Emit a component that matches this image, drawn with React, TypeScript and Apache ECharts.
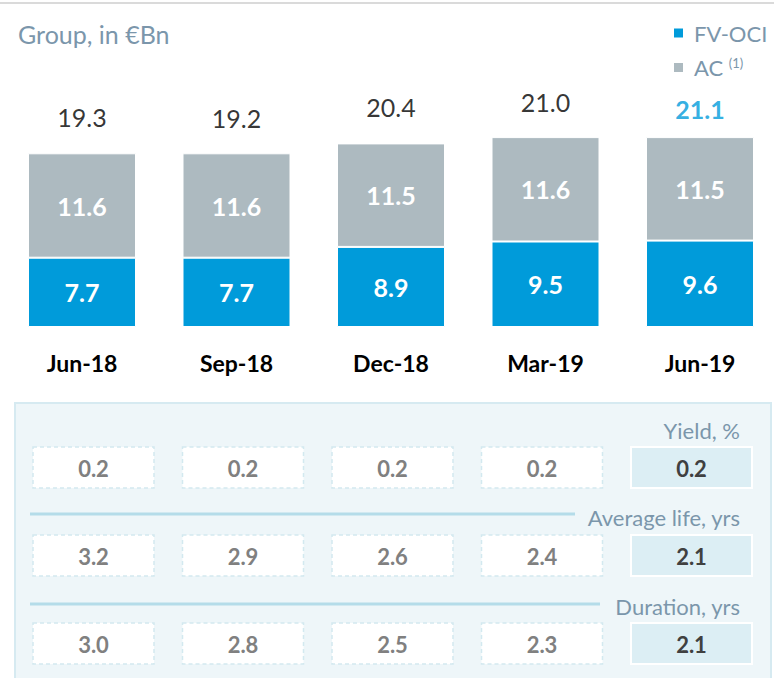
import React, { useEffect, useRef } from "react";
import * as echarts from "echarts";

const categories = ["Jun-18", "Sep-18", "Dec-18", "Mar-19", "Jun-19"];
const fvoci = [7.7, 7.7, 8.9, 9.5, 9.6];
const ac = [11.6, 11.6, 11.5, 11.6, 11.5];
const totals = [19.3, 19.2, 20.4, 21.0, 21.1];

const rowTitles = ["Yield, %", "Average life, yrs", "Duration, yrs"];
const yieldPct = [0.2, 0.2, 0.2, 0.2, 0.2];
const avgLife = [3.2, 2.9, 2.6, 2.4, 2.1];
const duration = [3.0, 2.8, 2.5, 2.3, 2.1];

const BLUE = "#009BDA";
const GREY = "#ADBAC0";
const TITLE = "#7B96AB";
const FONT = "Lato, 'Open Sans', sans-serif";

export default function App() {
  const ref = useRef<HTMLDivElement>(null);
  useEffect(() => {
    if (!ref.current) return;
    const chart = echarts.init(ref.current, undefined, { renderer: "svg" });
    const tableRows = [yieldPct, avgLife, duration];
    const tableData: number[][] = [];
    tableRows.forEach((row, r) => row.forEach((v, c) => tableData.push([c, r, v])));
    const last = categories.length - 1;

    chart.setOption({
      animation: false,
      textStyle: { fontFamily: FONT },
      title: {
        text: "Group, in €Bn",
        left: 13,
        top: 16,
        textStyle: { color: TITLE, fontSize: 25, fontWeight: "normal", fontFamily: FONT },
      },
      legend: {
        orient: "vertical",
        left: 672,
        top: 22,
        padding: 0,
        itemWidth: 11,
        itemHeight: 11,
        itemGap: 12,
        icon: "rect",
        data: ["FV-OCI", "AC"],
        formatter: (n: string) => (n === "AC" ? "AC {sup|(1)}" : n),
        textStyle: {
          color: TITLE,
          fontSize: 22,
          fontFamily: FONT,
          padding: [0, 0, 0, 5],
          rich: { sup: { fontSize: 13, color: TITLE, verticalAlign: "top", padding: [0, 0, 10, 0], fontFamily: FONT } },
        },
      },
      grid: [
        { left: 82, width: 618, top: 102, height: 225 },
        { left: 93.5, width: 598, top: 467.5, height: 176 },
      ],
      xAxis: [
        {
          type: "category",
          gridIndex: 0,
          data: categories,
          boundaryGap: false,
          axisLine: { show: false },
          axisTick: { show: false },
          axisLabel: { margin: 24, color: "#000", fontSize: 23, fontWeight: "bold", fontFamily: FONT },
        },
        { type: "category", gridIndex: 1, data: categories, boundaryGap: false, show: false },
      ],
      yAxis: [
        { type: "value", gridIndex: 0, min: 0, max: 25, show: false, splitLine: { show: false } },
        { type: "value", gridIndex: 1, min: 0, max: rowTitles.length - 1, inverse: true, show: false, splitLine: { show: false } },
      ],
      graphic: [
        { type: "line", shape: { x1: 0, y1: 3, x2: 774, y2: 3 }, style: { stroke: "#DADADA", lineWidth: 2 }, z: 0 },
        {
          type: "rect",
          shape: { x: 15, y: 403, width: 756, height: 290 },
          style: { fill: "#EEF6F9", stroke: "#D6EAF1", lineWidth: 2 },
          z: 0,
        },
        { type: "line", shape: { x1: 30, y1: 514, x2: 575, y2: 514 }, style: { stroke: "#B4DCE9", lineWidth: 3 }, z: 1 },
        { type: "line", shape: { x1: 30, y1: 604, x2: 600, y2: 604 }, style: { stroke: "#B4DCE9", lineWidth: 3 }, z: 1 },
        ...rowTitles.map((t, i) => ({
          type: "text",
          z: 1,
          x: 740,
          y: [430, 517, 606][i],
          style: { text: t, fill: TITLE, font: `22px ${FONT}`, align: "right", verticalAlign: "middle" },
        })),
      ],
      series: [
        {
          name: "FV-OCI",
          type: "bar",
          stack: "t",
          barWidth: 108,
          data: fvoci,
          itemStyle: { color: BLUE, borderColor: "#fff", borderWidth: 1 },
          label: { show: true, position: "inside", color: "#fff", fontSize: 25, fontWeight: "bold", fontFamily: FONT,
            formatter: (p: any) => p.value.toFixed(1) },
        },
        {
          name: "AC",
          type: "bar",
          stack: "t",
          barWidth: 108,
          data: ac,
          itemStyle: { color: GREY, borderColor: "#fff", borderWidth: 1 },
          label: { show: true, position: "inside", color: "#fff", fontSize: 25, fontWeight: "bold", fontFamily: FONT,
            formatter: (p: any) => p.value.toFixed(1) },
        },
        {
          name: "Total",
          type: "scatter",
          symbolSize: 1,
          itemStyle: { color: "transparent" },
          data: totals.map((v, i) => ({
            value: v,
            label:
              i === last
                ? { color: BLUE, fontWeight: "bold", distance: 15 }
                : { color: "#000", fontWeight: "normal", distance: 23 },
          })),
          label: { show: true, position: "top", fontSize: 25, fontFamily: FONT, formatter: (p: any) => p.value.toFixed(1) },
        },
        {
          name: "Table",
          type: "custom",
          xAxisIndex: 1,
          yAxisIndex: 1,
          data: tableData,
          renderItem: (params: any, api: any) => {
            const c = api.value(0);
            const v = api.value(2);
            const pt = api.coord([api.value(0), api.value(1)]);
            const hi = c === last;
            return {
              type: "group",
              children: [
                {
                  type: "rect",
                  shape: { x: pt[0] - 60.5, y: pt[1] - 20.5, width: 121, height: 41 },
                  style: hi
                    ? { fill: "#DCEEF4", stroke: "#FFFFFF", lineWidth: 2 }
                    : { fill: "#FFFFFF", stroke: "#D3E9F0", lineWidth: 1.5, lineDash: [4, 3] },
                },
                {
                  type: "text",
                  x: pt[0],
                  y: pt[1] + 1,
                  style: {
                    text: Number(v).toFixed(1),
                    fill: hi ? "#404040" : "#808080",
                    font: `bold 22px ${FONT}`,
                    align: "center",
                    verticalAlign: "middle",
                  },
                },
              ],
            };
          },
        },
      ],
    });
    return () => chart.dispose();
  }, []);
  return <div ref={ref} style={{ position: "absolute", left: 0, top: 0, width: 774, height: 678 }} />;
}
